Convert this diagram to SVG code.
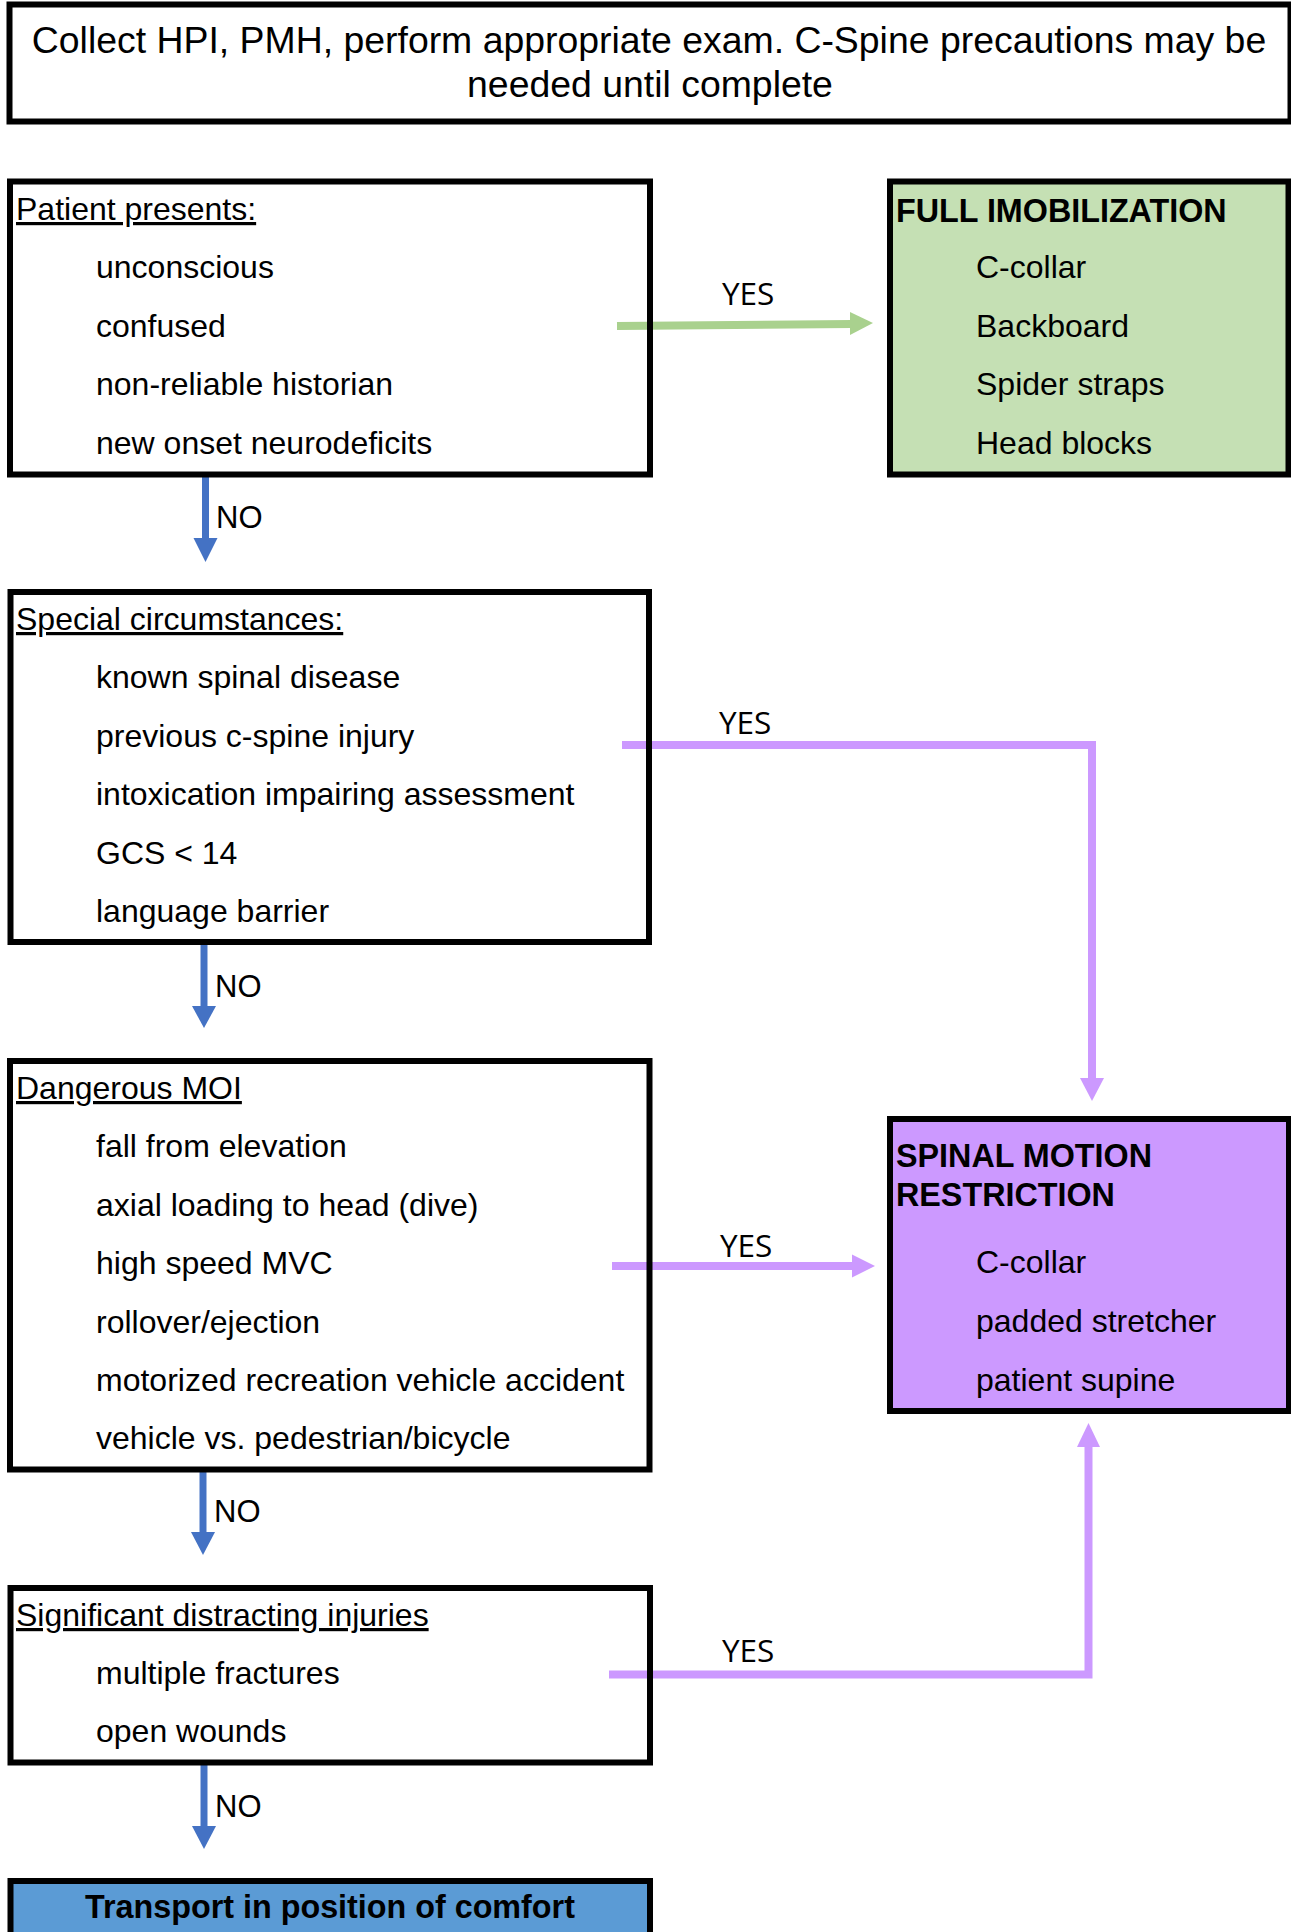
<svg xmlns="http://www.w3.org/2000/svg" width="1291" height="1932" viewBox="0 0 1291 1932">
<defs>
<style>
.box{fill:none;stroke:#000;stroke-width:6}
.t{font-family:"Liberation Sans",Arial,sans-serif;font-size:32px;fill:#000}
.h{font-family:"Liberation Sans",Arial,sans-serif;font-size:32px;fill:#000;text-decoration:underline}
.b{font-family:"Liberation Sans",Arial,sans-serif;font-size:32.3px;font-weight:bold;fill:#000}
.top{font-family:"Liberation Sans",Arial,sans-serif;font-size:37.4px;fill:#000;text-anchor:middle}
.no{font-family:"Liberation Sans",Arial,sans-serif;font-size:31px;fill:#000}
.yes{font-family:"Open Sans","Noto Sans",sans-serif;font-size:31.5px;fill:#000}
.blue{stroke:#4472C4;stroke-width:7;fill:none}
.bluehead{fill:#4472C4}
.purp{stroke:#CC99FF;stroke-width:8;fill:none}
.purphead{fill:#CC99FF}
.green{stroke:#A9D18E;stroke-width:8;fill:none}
.greenhead{fill:#A9D18E}
</style>
</defs>
<rect x="0" y="0" width="1291" height="1932" fill="#fff"/>
<g id="connectors">
<path class="green" d="M617,326 L852,324"/>
<polygon class="greenhead" points="850,312 873,323 850,335"/>
<path class="blue" d="M205.5,474 V540"/>
<polygon class="bluehead" points="193.5,538 217.5,538 205.5,562"/>
<path class="blue" d="M204,942 V1008"/>
<polygon class="bluehead" points="192,1006 216,1006 204,1028"/>
<path class="blue" d="M203,1469 V1534"/>
<polygon class="bluehead" points="191,1532 215,1532 203,1555"/>
<path class="blue" d="M204,1762 V1828"/>
<polygon class="bluehead" points="192,1826 216,1826 204,1849"/>
<path class="purp" d="M622,745 H1092 V1080"/>
<polygon class="purphead" points="1080,1078 1104,1078 1092,1101"/>
<path class="purp" d="M612,1266 H854"/>
<polygon class="purphead" points="852,1254.5 875,1266 852,1277.5"/>
<path class="purp" d="M609,1674.5 H1088.5 V1445"/>
<polygon class="purphead" points="1077,1447 1100,1447 1088.5,1423"/>
<text class="yes" x="722" y="305">YES</text>
<text class="yes" x="719" y="734">YES</text>
<text class="yes" x="720" y="1257">YES</text>
<text class="yes" x="722" y="1662">YES</text>
<text class="no" x="216" y="528">NO</text>
<text class="no" x="215" y="997">NO</text>
<text class="no" x="214" y="1522">NO</text>
<text class="no" x="215" y="1817">NO</text>
</g>
<g id="start">
<rect class="box" x="9.5" y="4.5" width="1281" height="117"/>
<text class="top" x="649" y="53">Collect HPI, PMH, perform appropriate exam. C-Spine precautions may be</text>
<text class="top" x="650" y="97">needed until complete</text>
</g>
<g id="patient-presents">
<rect class="box" x="10" y="181.5" width="640" height="293"/>
<text class="h" x="16" y="220">Patient presents:</text>
<text class="t" x="96" y="278">unconscious</text>
<text class="t" x="96" y="336.5">confused</text>
<text class="t" x="96" y="395">non-reliable historian</text>
<text class="t" x="96" y="453.5">new onset neurodeficits</text>
</g>
<g id="full-immobilization">
<rect x="890" y="181.5" width="398.5" height="293" fill="#C5E0B4" stroke="#000" stroke-width="6"/>
<text class="b" x="896" y="222">FULL IMOBILIZATION</text>
<text class="t" x="976" y="278">C-collar</text>
<text class="t" x="976" y="336.5">Backboard</text>
<text class="t" x="976" y="395">Spider straps</text>
<text class="t" x="976" y="453.5">Head blocks</text>
</g>
<g id="special-circumstances">
<rect class="box" x="10.5" y="592" width="638.5" height="350"/>
<text class="h" x="16" y="630">Special circumstances:</text>
<text class="t" x="96" y="688">known spinal disease</text>
<text class="t" x="96" y="746.5">previous c-spine injury</text>
<text class="t" x="96" y="805">intoxication impairing assessment</text>
<text class="t" x="96" y="863.5">GCS &lt; 14</text>
<text class="t" x="96" y="922">language barrier</text>
</g>
<g id="dangerous-moi">
<rect class="box" x="10" y="1061" width="639.5" height="408.5"/>
<text class="h" x="16" y="1099">Dangerous MOI</text>
<text class="t" x="96" y="1157.4">fall from elevation</text>
<text class="t" x="96" y="1215.8">axial loading to head (dive)</text>
<text class="t" x="96" y="1274.2">high speed MVC</text>
<text class="t" x="96" y="1332.6">rollover/ejection</text>
<text class="t" x="96" y="1391">motorized recreation vehicle accident</text>
<text class="t" x="96" y="1449.4">vehicle vs. pedestrian/bicycle</text>
</g>
<g id="spinal-motion-restriction">
<rect x="890" y="1119" width="399" height="292" fill="#CC99FF" stroke="#000" stroke-width="6"/>
<text class="b" x="896" y="1167">SPINAL MOTION</text>
<text class="b" x="896" y="1206">RESTRICTION</text>
<text class="t" x="976" y="1273">C-collar</text>
<text class="t" x="976" y="1332">padded stretcher</text>
<text class="t" x="976" y="1391">patient supine</text>
</g>
<g id="distracting-injuries">
<rect class="box" x="10.5" y="1588" width="639.5" height="174.5"/>
<text class="h" x="16" y="1626">Significant distracting injuries</text>
<text class="t" x="96" y="1683.5">multiple fractures</text>
<text class="t" x="96" y="1742">open wounds</text>
</g>
<g id="transport">
<rect x="10.5" y="1881" width="639.5" height="80" fill="#5B9BD5" stroke="#000" stroke-width="6"/>
<text class="b" x="330" y="1918" text-anchor="middle">Transport in position of comfort</text>
</g>
</svg>
